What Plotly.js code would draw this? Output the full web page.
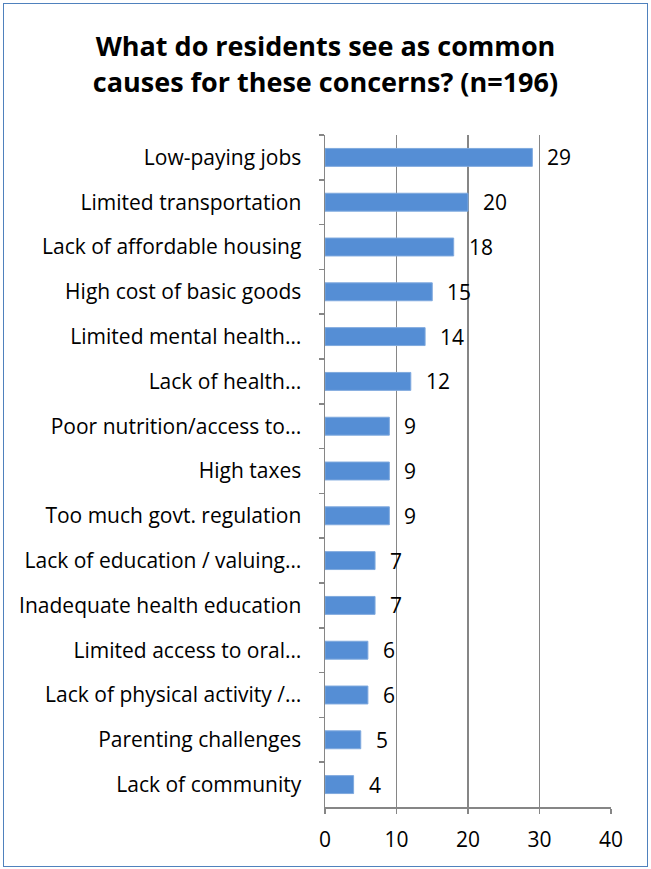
<!DOCTYPE html>
<html>
<head>
<meta charset="utf-8">
<script src="https://cdn.plot.ly/plotly-3.0.1.min.js"></script>
<style>
html,body{margin:0;padding:0;background:#fff;}
#frame{position:absolute;left:3px;top:3px;width:643px;height:862px;border:1.5px solid #4F81BD;box-sizing:content-box;}
#chart{position:absolute;left:0;top:0;width:651px;height:869px;}
</style>
</head>
<body>
<div id="chart"></div>
<div id="frame"></div>
<script>
const categories = [
  "Low-paying jobs",
  "Limited transportation",
  "Lack of affordable housing",
  "High cost of basic goods",
  "Limited mental health…",
  "Lack of health…",
  "Poor nutrition/access to…",
  "High taxes",
  "Too much govt. regulation",
  "Lack of education / valuing…",
  "Inadequate health education",
  "Limited access to oral…",
  "Lack of physical activity /…",
  "Parenting challenges",
  "Lack of community"
];
const values = [29, 20, 18, 15, 14, 12, 9, 9, 9, 7, 7, 6, 6, 5, 4];
const xTicks = [0, 10, 20, 30, 40];

const FONT = "'Open Sans', 'Noto Sans', sans-serif";
const annotations = values.map((v, i) => ({
  x: v, y: categories[i], xref: 'x', yref: 'y',
  text: String(v), showarrow: false, xanchor: 'left', xshift: 13,
  font: {family: FONT, size: 21, color: '#000'}
}));

const trace = {
  type: 'bar', orientation: 'h',
  x: values, y: categories,
  marker: {color: '#558ED5', line: {color: '#7FA9DE', width: 1}},
  width: 0.4,
  hoverinfo: 'none'
};

const layout = {
  width: 651, height: 869,
  margin: {l: 325, r: 40, t: 135, b: 62},
  paper_bgcolor: 'rgba(0,0,0,0)', plot_bgcolor: 'rgba(0,0,0,0)',
  title: {
    text: '<b>What do residents see as common<br>causes for these concerns? (n=196)</b>',
    font: {family: FONT, size: 27, color: '#000'},
    x: 0.5, xanchor: 'center', y: 0.935, yanchor: 'top'
  },
  showlegend: false,
  xaxis: {
    range: [0, 40], tickvals: xTicks, ticktext: xTicks.map(String),
    showgrid: true, gridcolor: '#868686', gridwidth: 1.5,
    zeroline: false, showline: true, linecolor: '#868686', linewidth: 1.5,
    ticks: 'outside', ticklen: 5, tickcolor: '#868686', tickwidth: 1.5,
    tickfont: {family: FONT, size: 21, color: '#000'},
    ticklabelstandoff: 8,
    fixedrange: true
  },
  yaxis: {
    autorange: 'reversed', type: 'category',
    showline: true, linecolor: '#868686', linewidth: 1.5,
    ticks: 'outside', ticklen: 5, tickcolor: '#868686', tickwidth: 1.5,
    tickson: 'boundaries', showgrid: false,
    tickfont: {family: FONT, size: 21, color: '#000'},
    ticklabelstandoff: 18,
    fixedrange: true
  },
  annotations: annotations
};

Plotly.newPlot('chart', [trace], layout, {displayModeBar: false, staticPlot: true});
</script>
</body>
</html>
